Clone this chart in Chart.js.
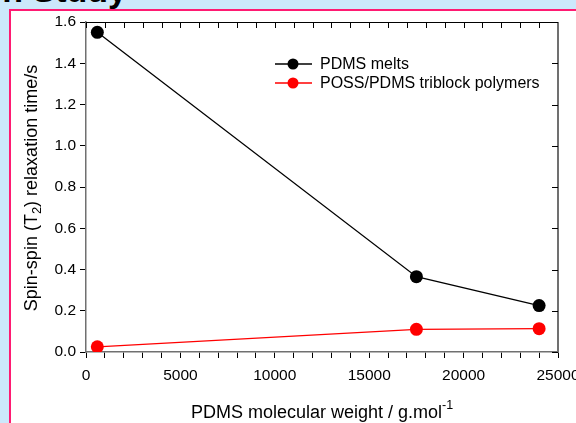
<!DOCTYPE html>
<html>
<head>
<meta charset="utf-8">
<script src="https://cdn.jsdelivr.net/npm/chart.js@4.4.1/dist/chart.umd.min.js"></script>
<style>
  html, body { margin: 0; padding: 0; }
  body { width: 576px; height: 423px; background: #cce8fb; position: relative; overflow: hidden; }
  #slideTitle { position: absolute; right: 449px; top: -27px; font: bold 34px/34px "Liberation Sans", Arial, sans-serif; white-space: nowrap; color: #000; }
  #panel { position: absolute; left: 9px; top: 9px; right: -4px; bottom: -4px; background: #fff; border-left: 2px solid #ff1a72; border-top: 2px solid #ff1a72; }
  #chartBox { position: absolute; left: 0; top: 0; width: 576px; height: 423px; }
</style>
</head>
<body>
<div id="slideTitle">n Study</div>
<div id="panel"></div>
<div id="chartBox"><canvas id="t2Chart"></canvas></div>
<script>
// Data
const pdmsWeights = [600, 17500, 24000];
const pdmsT2 = [1.55, 0.365, 0.225];
const possWeights = [600, 17500, 24000];
const possT2 = [0.025, 0.11, 0.113];
const xTickLabels = ['0', '5000', '10000', '15000', '20000', '25000'];
const yTickLabels = ['0.0', '0.2', '0.4', '0.6', '0.8', '1.0', '1.2', '1.4', '1.6'];

const FONT = '"Liberation Sans", Arial, sans-serif';
Chart.defaults.font.family = FONT;

function toPoints(xs, ys) {
  return xs.map((x, i) => ({ x: x, y: ys[i] }));
}

// draw a string made of runs with different sizes / baseline shifts, centred on x
function drawRuns(ctx, runs, cx, baseY) {
  let total = 0;
  runs.forEach(r => {
    ctx.font = r.size + 'px ' + FONT;
    r.w = ctx.measureText(r.text).width;
    total += r.w;
  });
  let x = cx - total / 2;
  ctx.textAlign = 'left';
  ctx.textBaseline = 'alphabetic';
  runs.forEach(r => {
    ctx.font = r.size + 'px ' + FONT;
    ctx.fillText(r.text, x, baseY + (r.dy || 0));
    x += r.w;
  });
}

const framePlugin = {
  id: 'framePlugin',
  afterDraw(chart) {
    const ctx = chart.ctx;
    const a = chart.chartArea;
    const xs = chart.scales.x;
    const ys = chart.scales.y;
    ctx.save();

    // top frame with inward ticks
    ctx.strokeStyle = '#000';
    ctx.lineWidth = 1;
    ctx.beginPath();
    ctx.moveTo(a.left, a.top + 0.5);
    ctx.lineTo(a.right, a.top + 0.5);
    xs.ticks.forEach(t => {
      const px = Math.round(xs.getPixelForValue(t.value)) + 0.5;
      ctx.moveTo(px, a.top);
      ctx.lineTo(px, a.top + 6);
    });
    ctx.stroke();

    // right frame with inward ticks
    ctx.strokeStyle = '#707070';
    ctx.lineWidth = 2;
    ctx.beginPath();
    ctx.moveTo(a.right, a.top);
    ctx.lineTo(a.right, a.bottom + 1);
    ctx.stroke();
    ctx.strokeStyle = '#000';
    ctx.lineWidth = 1;
    ctx.beginPath();
    ys.ticks.forEach(t => {
      const py = Math.round(ys.getPixelForValue(t.value)) + 0.5;
      ctx.moveTo(a.right, py);
      ctx.lineTo(a.right - 6, py);
    });
    ctx.stroke();

    // legend
    chart.data.datasets.forEach((ds, i) => {
      const y = 64 + i * 19;
      ctx.strokeStyle = ds.borderColor;
      ctx.lineWidth = 1.3;
      ctx.beginPath();
      ctx.moveTo(275, y);
      ctx.lineTo(312, y);
      ctx.stroke();
      ctx.fillStyle = ds.backgroundColor;
      ctx.beginPath();
      ctx.arc(293, y, 5.5, 0, Math.PI * 2);
      ctx.fill();
      ctx.fillStyle = '#000';
      ctx.font = '16px ' + FONT;
      ctx.textAlign = 'left';
      ctx.textBaseline = 'middle';
      ctx.fillText(ds.label, 320, y + 1);
    });

    // axis titles
    ctx.fillStyle = '#000';
    drawRuns(ctx, [
      { text: 'PDMS molecular weight / g.mol', size: 18 },
      { text: '-1', size: 12.5, dy: -9 }
    ], (a.left + a.right) / 2, 418);

    ctx.save();
    ctx.translate(37, (a.top + a.bottom) / 2 + 1);
    ctx.rotate(-Math.PI / 2);
    drawRuns(ctx, [
      { text: 'Spin-spin (T', size: 18 },
      { text: '2', size: 13, dy: 4 },
      { text: ') relaxation time/s', size: 18 }
    ], 0, 0);
    ctx.restore();

    ctx.restore();
  }
};

new Chart(document.getElementById('t2Chart'), {
  type: 'scatter',
  data: {
    datasets: [
      {
        label: 'PDMS melts',
        data: toPoints(pdmsWeights, pdmsT2),
        showLine: true,
        borderColor: '#000000',
        backgroundColor: '#000000',
        borderWidth: 1.3,
        pointRadius: 6.5,
        pointHoverRadius: 6.5,
        pointBorderWidth: 0
      },
      {
        label: 'POSS/PDMS triblock polymers',
        data: toPoints(possWeights, possT2),
        showLine: true,
        borderColor: '#ff0000',
        backgroundColor: '#ff0000',
        borderWidth: 1.3,
        pointRadius: 6.5,
        pointHoverRadius: 6.5,
        pointBorderWidth: 0
      }
    ]
  },
  options: {
    responsive: true,
    maintainAspectRatio: false,
    animation: false,
    layout: { padding: { top: 22, right: 18, left: 0, bottom: 0 } },
    plugins: {
      legend: { display: false },
      tooltip: { enabled: false }
    },
    scales: {
      x: {
        type: 'linear',
        min: 0,
        max: 25000,
        afterFit(s) { s.height = 71; s.paddingLeft = 0; s.paddingRight = 0; },
        ticks: {
          stepSize: 1000,
          autoSkip: false,
          maxRotation: 0,
          color: '#000',
          font: { size: 15.5 },
          padding: 8,
          callback: v => (v % 5000 === 0 ? xTickLabels[v / 5000] : '')
        },
        grid: { drawOnChartArea: false, drawTicks: true, tickLength: 6, color: '#000' },
        border: { display: true, color: '#707070', width: 1.5 }
      },
      y: {
        type: 'linear',
        min: 0,
        max: 1.6,
        afterFit(s) { s.width = 86; s.paddingTop = 0; s.paddingBottom = 0; },
        ticks: {
          stepSize: 0.2,
          color: '#000',
          font: { size: 15.5 },
          padding: 4,
          callback: v => yTickLabels[Math.round(v / 0.2)]
        },
        grid: { drawOnChartArea: false, drawTicks: true, tickLength: 6, color: '#000' },
        border: { display: true, color: '#707070', width: 1.5 }
      }
    }
  },
  plugins: [framePlugin]
});
</script>
</body>
</html>
